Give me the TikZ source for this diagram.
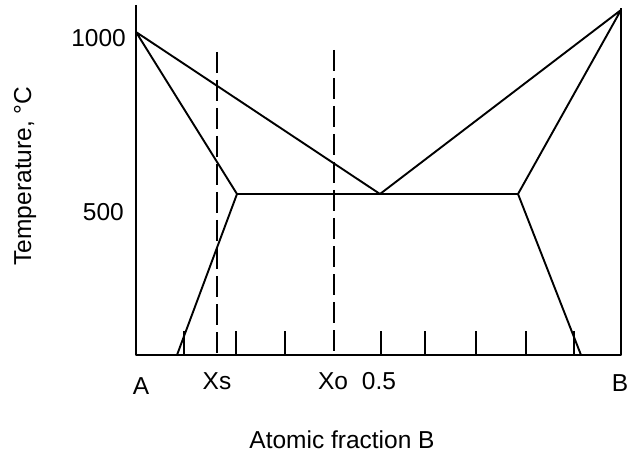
\documentclass[tikz,border=0pt]{standalone}
\usepackage{fontspec}
\setmainfont{Liberation Sans}
\usetikzlibrary{positioning}

\begin{document}
\begin{tikzpicture}[
  x=1pt, y=-1pt,
  ln/.style={line width=1.9pt, line join=round},
  dsh/.style={line width=1.9pt, dash pattern=on 21pt off 7pt},
  lbl/.style={font=\fontsize{24.5}{29}\selectfont, inner sep=0pt}
]
  \useasboundingbox (0,0) rectangle (629,457);

  % axes frame
  \coordinate (ytop) at (136,5);
  \coordinate (orig) at (136,355);
  \coordinate (xend) at (621,355);
  \coordinate (rtop) at (621,8);
  \draw[ln] (ytop) -- (orig) -- (xend) -- (rtop);

  % melting points, eutectic, solvus ends
  \coordinate (meltA) at (136,32);
  \coordinate (meltB) at (621,10);
  \coordinate (eutL) at (237,194);
  \coordinate (eutM) at (380,194);
  \coordinate (eutR) at (518,194);
  \coordinate (solL) at (177,355);
  \coordinate (solR) at (581,355);

  \draw[ln] (solL) -- (eutL) -- (meltA) -- (eutM) -- (meltB) -- (eutR) -- (solR);
  \draw[ln] (eutL) -- (eutR);

  % ticks
  \foreach \x in {184,236,285,381,425,476,526,574}
    \draw[ln] (\x,331) -- (\x,355);

  % compositions
  \coordinate (xsTop) at (217,52);
  \coordinate (xsBot) at (217,355);
  \coordinate (xoTop) at (334,50);
  \coordinate (xoBot) at (334,355);
  \draw[dsh] (xsTop) -- (xsBot);
  \draw[dsh] (xoTop) -- (xoBot);

  % labels
  \node[lbl, anchor=east] (t1000) at (126,38) {1000};
  \node[lbl, anchor=east] (t500) at (124,212) {500};
  \node[lbl] (labA) at (141,386) {A};
  \node[lbl] (labXs) at (217,381) {Xs};
  \node[lbl] (labXo) at (333,381) {Xo};
  \node[lbl] (lab05) at (379,381) {0.5};
  \node[lbl] (labB) at (620,383) {B};
  \node[lbl] (xtitle) at (342,440) {Atomic fraction B};
  \node[lbl, rotate=90] (ytitle) at (25,176) {Temperature, \textdegree C};
\end{tikzpicture}
\end{document}
